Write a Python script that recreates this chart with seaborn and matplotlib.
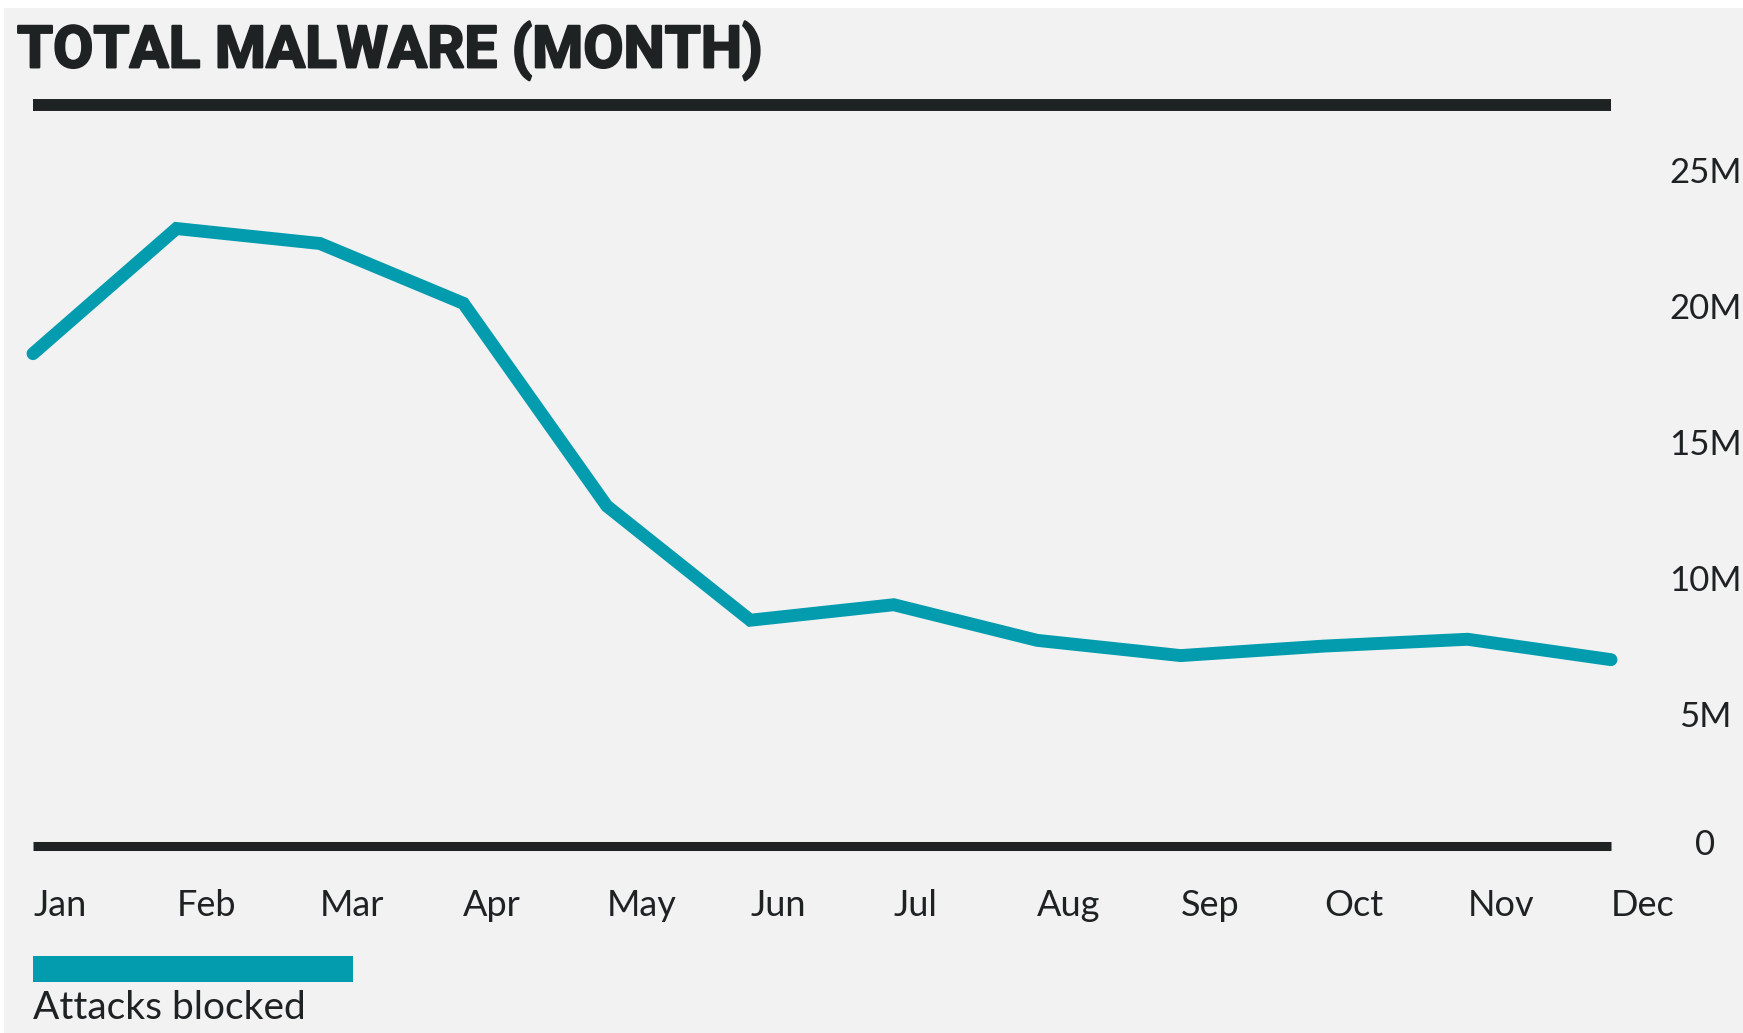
import matplotlib
matplotlib.use("Agg")
import matplotlib.pyplot as plt
import matplotlib.patches as mpatches
import matplotlib.patheffects as pe
import matplotlib.transforms as mtransforms
import seaborn as sns
import pandas as pd

# Monthly totals (millions of attacks blocked)
months = ["Jan", "Feb", "Mar", "Apr", "May", "Jun", "Jul", "Aug", "Sep", "Oct", "Nov", "Dec"]
attacks_blocked = [18.1, 22.7, 22.15, 19.95, 12.5, 8.3, 8.87, 7.56, 7.0, 7.35, 7.6, 6.85]
y_ticks = [0, 5, 10, 15, 20, 25]
y_tick_labels = ["0", "5M", "10M", "15M", "20M", "25M"]
series_name = "Attacks blocked"
title = "TOTAL MALWARE (MONTH)"

TEAL = "#029cae"
DARK = "#1f2223"
BG = "#f2f2f2"
TEXT_FONT = ["Lato", "DejaVu Sans"]

sns.set_theme(style="white")
plt.rcParams["font.family"] = TEXT_FONT

W, H = 1743, 1033
fig = plt.figure(figsize=(W / 100, H / 100), dpi=100, facecolor="white")
# light panel behind everything
fig.patches.append(mpatches.Rectangle((4 / W, 0), 1 - 4 / W, 1 - 8 / H,
                                      transform=fig.transFigure, facecolor=BG,
                                      edgecolor="none", zorder=0))

left, right = 33 / W, 1611 / W
bottom, top = 1 - 846 / H, 1 - 104.5 / H
ax = fig.add_axes([left, bottom, right - left, top - bottom])
ax.set_zorder(3)
ax.set_facecolor("none")

df = pd.DataFrame({"month": range(len(months)), "value": attacks_blocked})
sns.lineplot(data=df, x="month", y="value", ax=ax, color=TEAL, linewidth=9.3,
             solid_capstyle="round", solid_joinstyle="miter", clip_on=False)

ax.set_xlim(0, len(months) - 1)
ax.set_ylim(0, 27.26)

for side in ["left", "right"]:
    ax.spines[side].set_visible(False)
for side, lw in [("top", 8.6), ("bottom", 6.5)]:
    ax.spines[side].set_linewidth(lw)
    ax.spines[side].set_color(DARK)
    ax.spines[side].set_capstyle("butt")
ax.grid(False)

ax.set_xticks(range(len(months)))
ax.set_xticklabels(months, fontsize=26, color=DARK, ha="left")
ax.tick_params(axis="x", length=0, pad=31)

ax.yaxis.tick_right()
ax.set_yticks(y_ticks)
ax.set_yticklabels(y_tick_labels, fontsize=25, color=DARK)
ax.tick_params(axis="y", length=0, pad=68)
# value labels sit slightly below their gridline; the zero label sits above the baseline
for val, lbl in zip(y_ticks, ax.get_yticklabels()):
    lbl.set_ha("center")
    dy = 4 if val == 0 else -4.5
    lbl.set_transform(lbl.get_transform() +
                      mtransforms.ScaledTranslation(0, dy / 100, fig.dpi_scale_trans))
ax.set_xlabel("")
ax.set_ylabel("")

fig.text(17 / W, 1 - 51 / H, title, fontsize=42, fontweight="bold",
         family=["Roboto", "DejaVu Sans"], color=DARK, ha="left", va="center",
         path_effects=[pe.withStroke(linewidth=1.6, foreground=DARK)])

# legend swatch and label
fig.patches.append(mpatches.Rectangle((33 / W, 1 - 981.5 / H), 320 / W, 26 / H,
                                      transform=fig.transFigure, facecolor=TEAL,
                                      edgecolor="none", zorder=2))
fig.text(33 / W, 1 - 1008 / H, series_name, fontsize=28, color=DARK,
         ha="left", va="center")

fig.savefig("out.png", dpi=100, facecolor="white")
